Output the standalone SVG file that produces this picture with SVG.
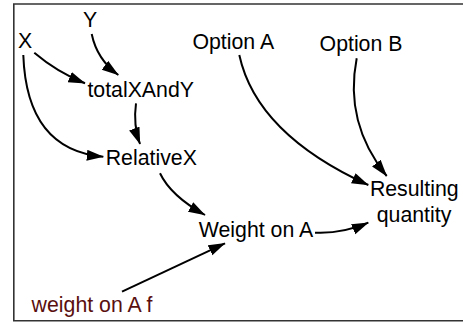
<svg xmlns="http://www.w3.org/2000/svg" width="463" height="322" viewBox="0 0 463 322">
<style>
.t{font-family:"Liberation Sans",Arial,sans-serif;font-size:21.3px;fill:#000;text-anchor:middle}
.r{fill:#5a0f0f}
.c{fill:none;stroke:#000;stroke-width:2;marker-end:url(#ah)}
.frame{fill:none;stroke:#333;stroke-width:1.6}
</style>
<defs>
<marker id="ah" markerUnits="userSpaceOnUse" markerWidth="19" markerHeight="13" refX="16.5" refY="5.5" orient="auto">
<path d="M0,0 L17,5.5 L0,11 z" fill="#000"/>
</marker>
</defs>
<path class="frame" d="M463,4 H13.8 V320.8 H463"/>
<g id="connectors">
<path class="c" d="M91.7,34 Q97,59.5 118.3,75"/>
<path class="c" d="M34.3,52.7 Q57,72 85,83.3"/>
<path class="c" d="M23.3,55 Q26.7,150 103.3,156.7"/>
<path class="c" d="M136,103.3 Q133,125 140,144"/>
<path class="c" d="M160,173.3 Q170.8,196 205,215"/>
<path class="c" d="M122,291.7 Q172,268 225,243.3"/>
<path class="c" d="M315,232.7 Q342,234 368.3,222.7"/>
<path class="c" d="M239.3,55 Q256.5,134 368.3,185"/>
<path class="c" d="M356.7,58.3 Q344,123 386.7,176"/>
</g>
<g id="X"><text class="t" x="25" y="47.5">X</text></g>
<g id="Y"><text class="t" x="90" y="27">Y</text></g>
<g id="totalXAndY"><text class="t" x="140.7" y="97">totalXAndY</text></g>
<g id="RelativeX"><text class="t" x="151.3" y="165">RelativeX</text></g>
<g id="OptionA"><text class="t" x="233.3" y="48.5">Option A</text></g>
<g id="OptionB"><text class="t" x="361" y="51">Option B</text></g>
<g id="ResultingQuantity"><text class="t" x="414.3" y="195.7">Resulting</text><text class="t" x="414" y="221.5">quantity</text></g>
<g id="WeightOnA"><text class="t" x="256" y="236.7">Weight on A</text></g>
<g id="weightOnAf"><text class="t r" x="92" y="311.7">weight on A f</text></g>
</svg>
